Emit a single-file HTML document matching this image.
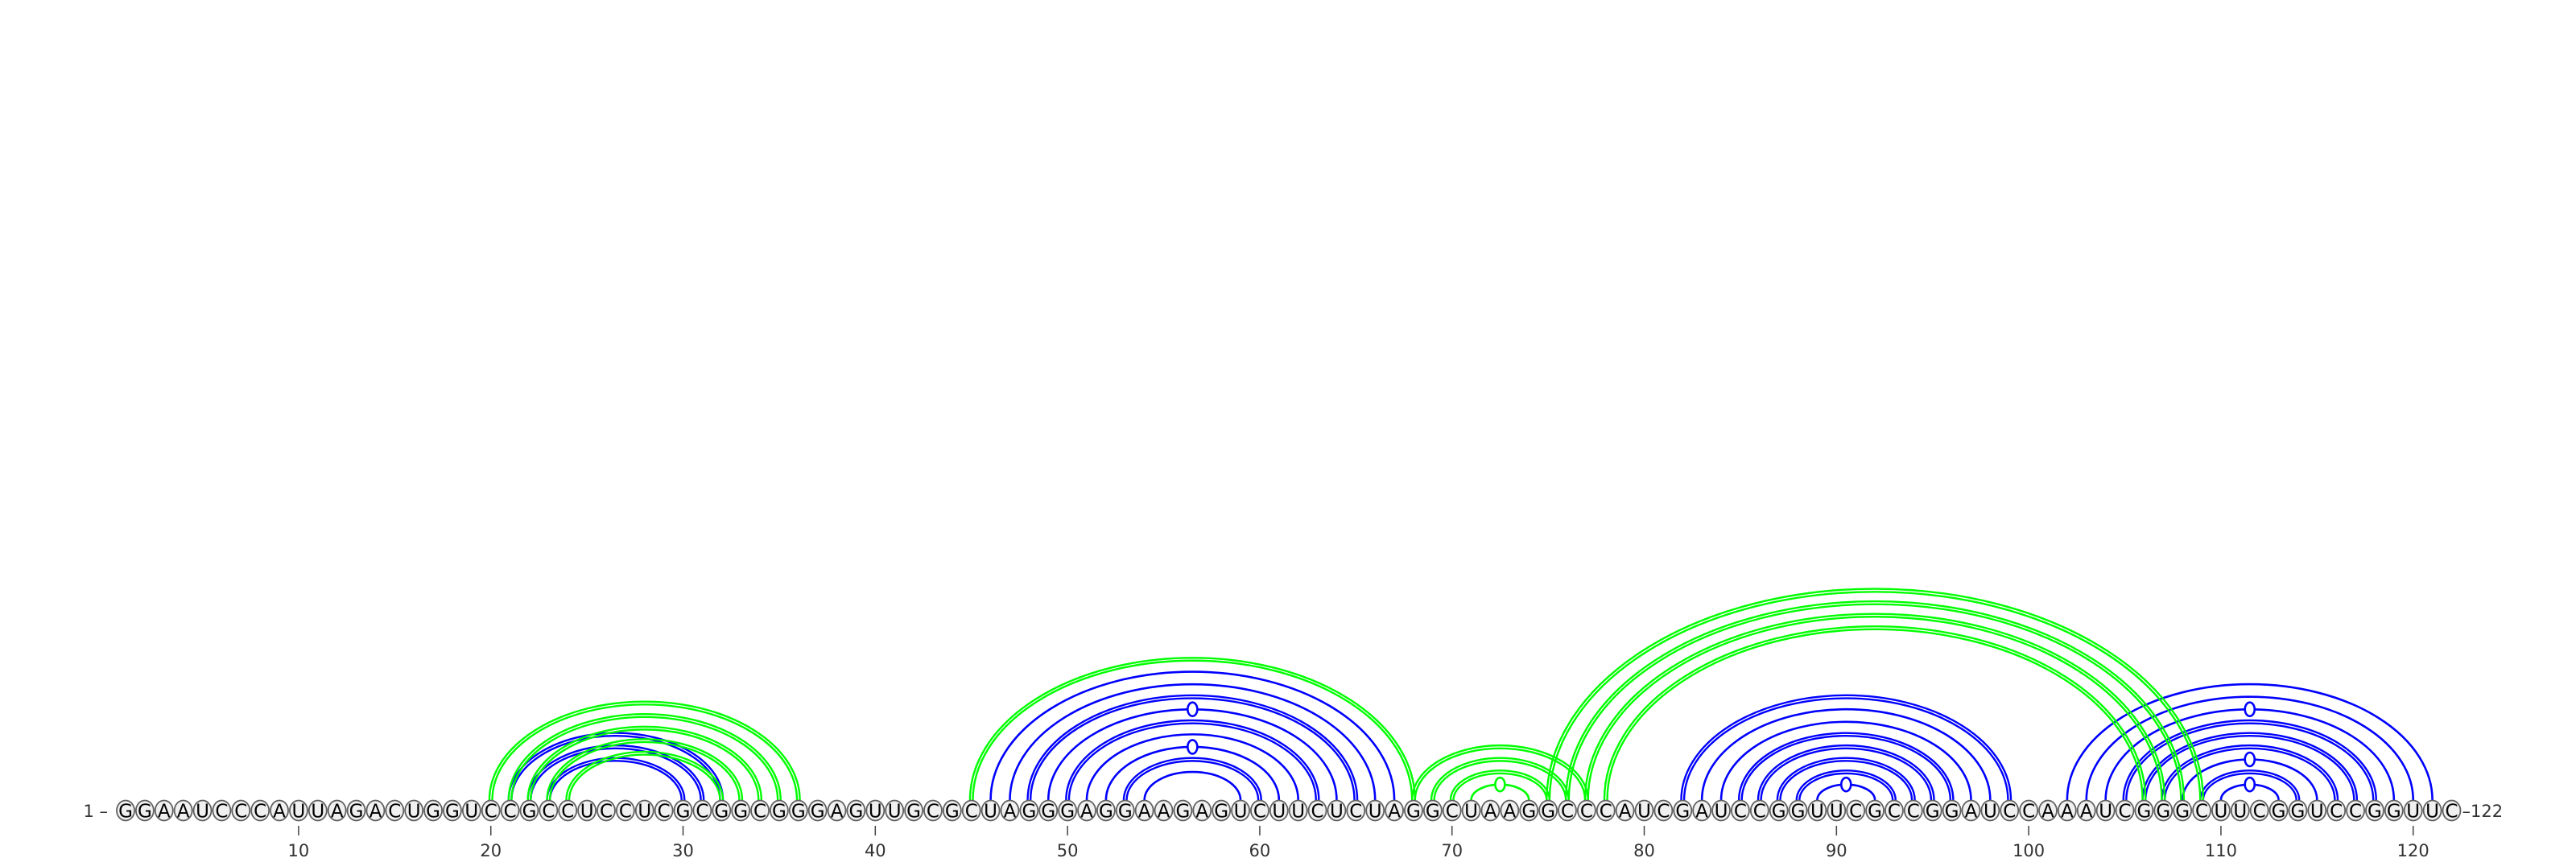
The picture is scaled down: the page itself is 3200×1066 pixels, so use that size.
<!DOCTYPE html>
<html><head><meta charset="utf-8"><style>
html,body{margin:0;padding:0;background:#fff;}
svg{display:block;font-family:"DejaVu Sans","Liberation Sans",sans-serif;}
</style></head><body>
<svg id="chart" width="3200" height="1066" viewBox="0 0 3200 1066" xmlns="http://www.w3.org/2000/svg">
<g id="arcs"></g>
<g id="nucs"></g>
<g id="axis"></g>
</svg>
<script>
const sequence = "GGAAUCCCAUUAGACUGGUCCGCCUCCUCGCGGCGGGAGUUGCGCUAGGGAGGAAGAGUCUUCUCUAGGCUAAGGCCCAUCGAUCCGGUUCGCCGGAUCCAAAUCGGGCUUCGGUCCGGUUC";
const bluePairs = [[21,32],[22,31],[23,30],[46,67],[47,66],[48,65],[49,64],[50,63],[51,62],[52,61],[53,60],[54,59],[82,99],[83,98],[84,97],[85,96],[86,95],[87,94],[88,93],[89,92],[102,121],[103,120],[104,119],[105,118],[106,117],[107,116],[108,115],[109,114],[110,113]];
const greenPairs = [[20,36],[21,35],[22,34],[23,33],[24,32],[45,68],[68,77],[69,76],[70,75],[71,74],[75,109],[76,108],[77,107],[78,106]];
const tickLabels = [10,20,30,40,50,60,70,80,90,100,110,120];

const NS="http://www.w3.org/2000/svg";
const x0=156, dx=23.88, baseY=1007, arcBase=994;
function xs(p){return x0+(p-1)*dx;}
function mk(t,a,parent){const e=document.createElementNS(NS,t);for(const k in a)e.setAttribute(k,a[k]);parent.appendChild(e);return e;}
const arcsG=document.getElementById('arcs'), nucG=document.getElementById('nucs'), axG=document.getElementById('axis');

function pairType(i,j){const a=sequence[i-1],b=sequence[j-1];const s=a+b;
  if(s==='GC'||s==='CG')return 'gc'; if(s==='GU'||s==='UG')return 'gu'; return 'au';}
function arcPath(x1,x2,rx,h){return `M${x1},${arcBase} A${rx},${h} 0 0 1 ${x2},${arcBase}`;}
function drawPair(p,color){
  const [i,j]=p; const xa=xs(i), xb=xs(j); const half=(xb-xa)/2; const h=0.652*half-4;
  const t=pairType(i,j);
  if(t==='gc'){
    for(const o of [-1.8,1.8]){
      const path=mk('path',{d:arcPath(xa+o,xb-o,half-o,h-o),fill:'none',stroke:color,'stroke-width':2.4},arcsG);
      
      
    }
  } else {
    const path=mk('path',{d:arcPath(xa,xb,half,h),fill:'none',stroke:color,'stroke-width':2.6},arcsG);
    
    
    if(t==='gu'){
      const m=mk('ellipse',{cx:(xa+xb)/2,cy:arcBase-h,rx:6,ry:8.5,fill:'#fff',stroke:color,'stroke-width':2.6},arcsG);
      
      
    }
  }
}
bluePairs.forEach(p=>drawPair(p,'#0000ff'));
greenPairs.forEach(p=>drawPair(p,'#00ff00'));

for(let k=1;k<=sequence.length;k++){
  const g=mk('g',{},nucG);
  
  
  mk('ellipse',{cx:xs(k),cy:baseY,rx:11,ry:12.5,fill:'#f0f0f0',stroke:'#606060','stroke-width':1.8},g);
  const t=mk('text',{x:xs(k),y:baseY+8.5,'text-anchor':'middle','font-size':23,fill:'#000'},g);
  t.textContent=sequence[k-1];
}
tickLabels.forEach(v=>{
  const l=mk('line',{x1:xs(v),x2:xs(v),y1:1026,y2:1038,stroke:'#444','stroke-width':1.5},axG);
  
  
  const t=mk('text',{x:xs(v),y:1064,'text-anchor':'middle','font-size':21,fill:'#333'},axG);
  
  
  t.textContent=v;
});
const s=mk('text',{x:xs(1)-22,y:baseY+8,'text-anchor':'end','font-size':21,fill:'#333'},axG);


s.textContent='1 \u2013';
const e=mk('text',{x:xs(sequence.length)+13,y:baseY+8,'text-anchor':'start','font-size':21,fill:'#333'},axG);


e.textContent='\u2013'+sequence.length;
</script>
</body></html>
